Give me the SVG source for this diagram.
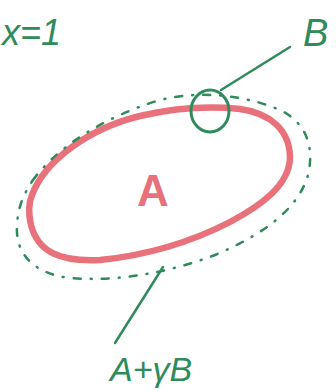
<svg xmlns="http://www.w3.org/2000/svg" width="336" height="391" viewBox="0 0 336 391">
<style>
.lbl{font-family:"Liberation Sans","DejaVu Sans",sans-serif;fill:#2f8a5c;font-style:italic}
.grn{fill:none;stroke:#2f8a5c;stroke-linecap:round}
</style>
<rect width="336" height="391" fill="#ffffff"/>
<g id="set-A">
<path d="M32 195 C45 160 90 128 140 116 C175 108 210 106 240 109 C270 113 290 130 290 158 C289 185 262 205 230 222 C195 240 150 255 100 260 C60 262 38 252 31 225 C28 212 29 202 32 195 Z" fill="none" stroke="#e8717c" stroke-width="6.5"/>
<text x="153" y="206" text-anchor="middle" font-family="Liberation Sans, sans-serif" font-size="44" font-weight="bold" fill="#e8717c">A</text>
</g>
<g id="set-AyB">
<path class="grn" d="M33 180 C55 150 100 118 160 100 C200 90 245 95 280 110 C305 122 315 145 308 175 C298 210 262 235 215 255 C170 272 120 282 70 278 C35 274 15 255 17 225 C18 205 25 192 33 180 Z" stroke-width="2.5" stroke-dasharray="7 10 1 10"/>
</g>
<g id="point-B">
<ellipse class="grn" cx="210" cy="111" rx="19" ry="21" stroke-width="3"/>
</g>
<g id="connectors">
<line class="grn" x1="221" y1="90" x2="290" y2="47" stroke-width="2.5"/>
<line class="grn" x1="163" y1="267" x2="115" y2="343" stroke-width="2.5"/>
</g>
<g id="labels">
<text class="lbl" x="2" y="45" font-size="36">x=1</text>
<text class="lbl" x="303" y="46" font-size="38">B</text>
<text class="lbl" x="110" y="381" font-size="34">A+γB</text>
</g>
</svg>
